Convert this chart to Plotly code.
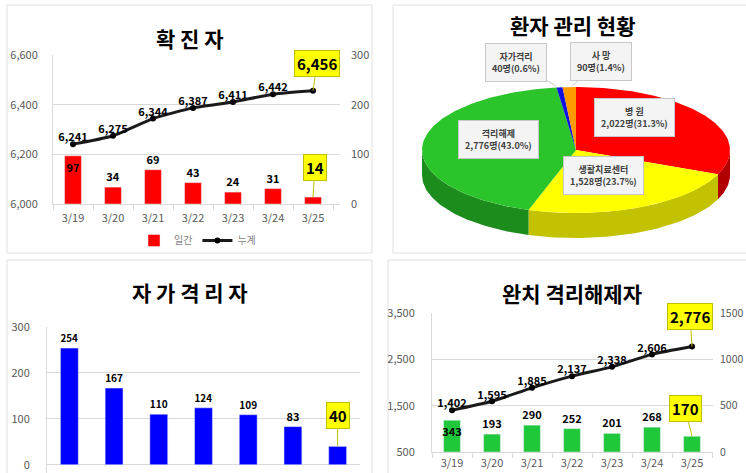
import numpy as np
import plotly.graph_objects as go

# ---------------- data ----------------
dates = ["3/19", "3/20", "3/21", "3/22", "3/23", "3/24", "3/25"]
confirmed_daily = [97, 34, 69, 43, 24, 31, 14]
confirmed_cum = [6241, 6275, 6344, 6387, 6411, 6442, 6456]
selfq_counts = [254, 167, 110, 124, 109, 83, 40]
released_daily = [343, 193, 290, 252, 201, 268, 170]
released_cum = [1402, 1595, 1885, 2137, 2338, 2606, 2776]
pie_labels = ["병 원", "생활치료센터", "격리해제", "자가격리", "사 망"]
pie_values = [2022, 1528, 2776, 40, 90]

titles = ["확 진 자", "환자 관리 현황", "자 가 격 리 자", "완치 격리해제자"]
legend_names = ["일간", "누계"]

# ---------------- layout helpers ----------------
W, H = 746, 473
def px(x):
    return x / W
def py(y):
    return 1 - y / H

FONT = "Noto Sans CJK KR"
TICK = dict(family=FONT, size=11, color="#595959")
GRID = "#d9d9d9"
LBL = dict(family=FONT, size=11, color="black")

fig = go.Figure()

# ---------------- top-left: 확진자 ----------------
fig.add_trace(go.Bar(
    x=dates, y=confirmed_daily, name=legend_names[0], marker_color="#FF0000",
    width=0.42, xaxis="x", yaxis="y",
    text=[f"<b>{v}</b>" for v in confirmed_daily[:-1]] + [""],
    textposition=["inside"] + ["outside"] * 6, insidetextanchor="end", textangle=0,
    textfont=LBL, constraintext="none", cliponaxis=False,
))
fig.add_trace(go.Scatter(
    x=dates, y=confirmed_cum, name=legend_names[1], mode="lines+markers",
    line=dict(color="#1a1a1a", width=3, shape="spline", smoothing=0.6),
    marker=dict(color="black", size=6), xaxis="x", yaxis="y2",
))
fig.add_trace(go.Scatter(
    x=dates[:-1], y=confirmed_cum[:-1], mode="text", showlegend=False,
    text=[f"<b>{v:,}</b>" for v in confirmed_cum[:-1]], textposition="top center",
    textfont=LBL, xaxis="x", yaxis="y2", cliponaxis=False,
))

# ---------------- top-right: pie (pseudo 3D ellipse) ----------------
cx, cy, ra, rb, depth = 576, 150, 154, 63, 25
top_cols = ["#FF0000", "#FFFF00", "#2BC42B", "#1010E0", "#FF9900"]
side_cols = ["#B00000", "#C2C200", "#1C8C1C", "#0000A0", "#C07000"]
total = sum(pie_values)
fracs = [v / total for v in pie_values]
starts = 90 - 360 * np.concatenate([[0], np.cumsum(fracs)[:-1]])
ends = 90 - 360 * np.cumsum(fracs)

def ell(t_deg, dy=0.0):
    t = np.radians(t_deg)
    return cx + ra * np.cos(t), cy - rb * np.sin(t) + dy

for s, e, c in zip(starts, ends, side_cols):
    lo, hi = max(e, -180), min(s, 0)
    if hi <= lo:
        continue
    tt = np.linspace(hi, lo, 60)
    xt, yt = ell(tt)
    xb, yb = ell(tt[::-1], depth)
    fig.add_trace(go.Scatter(
        x=np.concatenate([xt, xb]), y=np.concatenate([yt, yb]),
        fill="toself", fillcolor=c, mode="lines", line=dict(width=0, color=c),
        showlegend=False, hoverinfo="skip", xaxis="x3", yaxis="y3"))
for s, e, c in zip(starts, ends, top_cols):
    n = max(int(abs(s - e)), 4)
    tt = np.linspace(s, e, n)
    xa, ya = ell(tt)
    fig.add_trace(go.Scatter(
        x=np.concatenate([[cx], xa, [cx]]), y=np.concatenate([[cy], ya, [cy]]),
        fill="toself", fillcolor=c, mode="lines", line=dict(width=0, color=c),
        showlegend=False, hoverinfo="skip", xaxis="x3", yaxis="y3"))

# ---------------- bottom-left: 자가격리자 ----------------
fig.add_trace(go.Bar(
    x=dates, y=selfq_counts, marker_color="#0000FF", width=0.4, showlegend=False,
    text=[f"<b>{v}</b>" for v in selfq_counts[:-1]] + [""], textposition="outside",
    textangle=0, textfont=LBL, cliponaxis=False, xaxis="x4", yaxis="y4",
))

# ---------------- bottom-right: 완치 격리해제자 ----------------
fig.add_trace(go.Bar(
    x=dates, y=released_daily, marker_color="#1FC83A", width=0.42, showlegend=False,
    text=[f"<b>{v}</b>" for v in released_daily[:-1]] + [""],
    textposition=["inside"] + ["outside"] * 6, insidetextanchor="end", textangle=0,
    textfont=LBL, constraintext="none", cliponaxis=False, xaxis="x5", yaxis="y5",
))
fig.add_trace(go.Scatter(
    x=dates, y=released_cum, mode="lines+markers", showlegend=False,
    line=dict(color="#1a1a1a", width=3, shape="spline", smoothing=0.6),
    marker=dict(color="black", size=6), xaxis="x5", yaxis="y6",
))
fig.add_trace(go.Scatter(
    x=dates[:-1], y=released_cum[:-1], mode="text", showlegend=False,
    text=[f"<b>{v:,}</b>" for v in released_cum[:-1]], textposition="top center",
    textfont=LBL, xaxis="x5", yaxis="y6", cliponaxis=False,
))

# ---------------- axes ----------------
def xcat(dom, anchor, **kw):
    d = dict(domain=dom, anchor=anchor, type="category", showline=True,
             linecolor=GRID, ticks="outside", tickson="boundaries", ticklen=5,
             tickcolor=GRID, tickfont=TICK, showgrid=False, fixedrange=True,
             ticklabelstandoff=4, automargin=False)
    d.update(kw)
    return d

fig.update_layout(
    xaxis=xcat([px(53), px(340)], "y"),
    yaxis=dict(domain=[py(204), py(55)], range=[0, 300], side="right", anchor="x",
               tickvals=[0, 100, 200, 300], gridcolor=GRID, showline=False,
               zeroline=False, tickfont=TICK, ticklabelstandoff=10, fixedrange=True,
               automargin=False),
    yaxis2=dict(overlaying="y", side="left", anchor="x", range=[6000, 6600],
                tickvals=[6000, 6200, 6400, 6600], tickformat=",", showgrid=False,
                showline=True, linecolor=GRID, zeroline=False, tickfont=TICK,
                ticklabelstandoff=12, fixedrange=True, automargin=False),
    xaxis3=dict(domain=[px(393), 1], range=[393, 746], visible=False, fixedrange=True,
                anchor="y3", automargin=False),
    yaxis3=dict(domain=[py(253), py(5)], range=[253, 5], visible=False, fixedrange=True,
                anchor="x3", automargin=False),
    xaxis4=xcat([px(47), px(360)], "y4", showticklabels=False, showline=False,
                ticks=""),
    yaxis4=dict(domain=[0, py(327)], range=[-18, 300], anchor="x4",
                tickvals=[0, 100, 200, 300], gridcolor=GRID, showline=True,
                linecolor=GRID, zeroline=False, tickfont=TICK, ticklabelstandoff=14,
                ticklabeloverflow="allow", fixedrange=True, automargin=False),
    xaxis5=xcat([px(432), px(713)], "y5", ticklabelstandoff=1),
    yaxis5=dict(domain=[py(452), py(313)], range=[0, 1500], side="right", anchor="x5",
                tickvals=[0, 500, 1000, 1500], gridcolor=GRID, showline=False,
                zeroline=False, tickfont=dict(family=FONT, size=10.5, color="#595959"),
                ticklabelstandoff=6, fixedrange=True, automargin=False),
    yaxis6=dict(overlaying="y5", side="left", anchor="x5", range=[500, 3500],
                tickvals=[500, 1500, 2500, 3500], tickformat=",", showgrid=False,
                showline=True, linecolor=GRID, zeroline=False, tickfont=TICK,
                ticklabelstandoff=14, fixedrange=True, automargin=False),
)

# ---------------- panel borders ----------------
shapes = []
for x0, y0, x1, y1 in [(7, 5, 372, 253), (393, 5, 760, 253),
                       (7, 260, 372, 480), (388, 260, 760, 480)]:
    shapes.append(dict(type="rect", xref="paper", yref="paper",
                       x0=px(x0), x1=px(x1), y0=py(y1), y1=py(y0),
                       line=dict(color="#e0e0e0", width=1), layer="below"))

# ---------------- annotations ----------------
ann = []
for t, (x, y) in zip(titles, [(190, 38), (572, 25), (190, 292), (572, 293)]):
    ann.append(dict(text=f"<b>{t}</b>", x=px(x), y=py(y), xref="paper", yref="paper",
                    showarrow=False, font=dict(family=FONT, size=21, color="black"),
                    xanchor="center", yanchor="middle"))

def callout(x, y, xref, yref, txt, ax, ay):
    return dict(x=x, y=y, xref=xref, yref=yref, text=f"<b>{txt}</b>", showarrow=True,
                arrowhead=0, arrowcolor="#BFBF00", arrowwidth=1, ax=ax, ay=ay,
                bgcolor="#FFFF00", bordercolor="#BFBF00", borderwidth=1, borderpad=2,
                font=dict(family=FONT, size=15, color="black"))

ann.append(callout(dates[-1], confirmed_cum[-1], "x", "y2", f"{confirmed_cum[-1]:,}", 4, -27))
ann.append(callout(dates[-1], confirmed_daily[-1], "x", "y", f"{confirmed_daily[-1]}", 2, -30))
ann.append(callout(dates[-1], selfq_counts[-1], "x4", "y4", f"{selfq_counts[-1]}", 0, -31))
ann.append(callout(dates[-1], released_cum[-1], "x5", "y6", f"{released_cum[-1]:,}", -2, -30))
ann.append(callout(dates[-1], released_daily[-1], "x5", "y5", f"{released_daily[-1]}", -7, -28))

label_pos = [(634, 117), (603, 175), (498, 139), (516, 62), (601, 61)]
arrow_pts = [None, None, None, (556, 86), (572, 86)]
for lab, v, f, (lx, ly), ap in zip(pie_labels, pie_values, fracs, label_pos, arrow_pts):
    txt = f"<b>{lab}</b><br><b>{v:,}명({100 * f:.1f}%)</b>"
    base = dict(text=txt, xref="x3", yref="y3", bgcolor="#F4F4F4",
                bordercolor="#C8C8C8", borderwidth=1, borderpad=6,
                font=dict(family=FONT, size=9, color="#404040"))
    if ap is None:
        base.update(x=lx, y=ly, showarrow=False)
    else:
        base.update(x=ap[0], y=ap[1], showarrow=True, arrowhead=0, arrowcolor="#C8C8C8",
                    arrowwidth=1, ax=lx - ap[0], ay=ly - ap[1])
    ann.append(base)

fig.update_layout(
    width=W, height=H, margin=dict(l=0, r=0, t=0, b=0, autoexpand=False),
    paper_bgcolor="white", plot_bgcolor="rgba(0,0,0,0)",
    shapes=shapes, annotations=ann, barmode="overlay",
    showlegend=True,
    legend=dict(orientation="h", x=px(134), y=py(226), xanchor="left", yanchor="top",
                font=dict(family=FONT, size=10, color="#7f7f7f"),
                bgcolor="rgba(0,0,0,0)", itemwidth=30, tracegroupgap=0),
    font=dict(family=FONT),
)

fig.write_html("out.html")
